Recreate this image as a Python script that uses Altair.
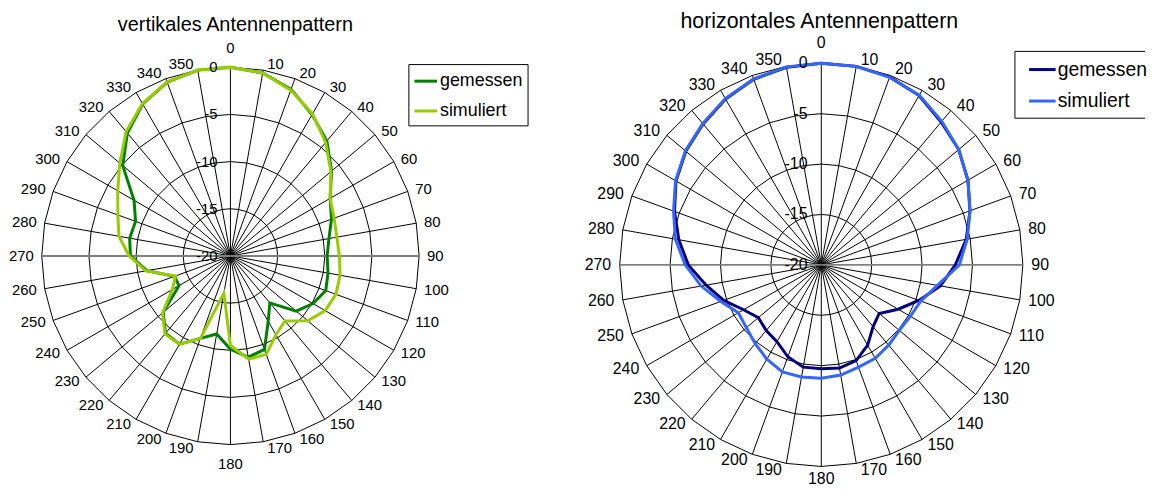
import altair as alt
import pandas as pd

# ---------------- data ----------------
angles = list(range(0, 360, 10))
angle_labels = [str(a) for a in angles]
ring_values = [-20, -15, -10, -5, 0]
series_names = ["gemessen", "simuliert"]
titles = ["vertikales Antennenpattern", "horizontales Antennenpattern"]

vert_gemessen = [0, -0.3, -1.2, -2.7, -4.1, -6.0, -7.8, -8.6, -9.4, -9.75,
                 -9.5, -9.25, -9.9, -10.9, -13.5, -12.0, -9.45, -9.1, -10.1, -11.6,
                 -10.7, -9.2, -9.3, -10.7, -13.7, -13.7, -11.0, -9.4, -9.15, -9.3,
                 -8.2, -5.1, -3.0, -1.4, -0.4, 0]
vert_simuliert = [0, -0.3, -1.3, -2.6, -4.3, -6.1, -7.8, -8.3, -8.55, -8.45,
                  -8.2, -8.1, -8.4, -9.3, -11.0, -10.35, -8.9, -8.9, -10.5, -16.0,
                  -10.7, -9.2, -9.2, -10.6, -12.9, -13.8, -10.9, -9.26, -8.0, -7.3,
                  -6.2, -4.7, -2.8, -1.35, -0.36, 0]
hor_gemessen = [0, 0, -0.15, -0.6, -1.5, -2.2, -3.2, -4.3, -5.4, -6.7,
                -8.0, -9.7, -11.2, -12.5, -12.0, -10.8, -9.9, -9.6, -9.7, -9.7,
                -10.3, -11.2, -11.5, -11.85, -11.1, -9.7, -8.4, -6.8, -5.65, -4.5,
                -3.35, -2.45, -1.75, -1.0, -0.4, -0.1]
hor_simuliert = [0, 0, -0.2, -0.55, -1.4, -2.2, -3.2, -4.3, -5.3, -6.3,
                 -8.3, -9.5, -9.8, -9.9, -9.6, -9.3, -9.2, -8.9, -8.75, -8.7,
                 -8.7, -9.2, -9.8, -10.3, -10.5, -9.4, -7.9, -6.5, -5.3, -4.4,
                 -3.3, -2.4, -1.7, -0.95, -0.37, -0.05]

vert_colors = ["#008000", "#99CC00"]
hor_colors = ["#000080", "#3366FF"]

R0 = ring_values[0]
SPAN = ring_values[-1] - ring_values[0]
FONT = "Liberation Sans"
RAD = "PI/180"


def panel(title, gem, sim, colors, W, H, cx, cy, k, s, title_x, title_y, title_fs,
          tick_fs, leg, bottom_off):
    xs = alt.Scale(domain=[-cx / k, (W - cx) / k], nice=False, zero=False)
    ys = alt.Scale(domain=[-(H - cy) / k, cy / k], nice=False, zero=False)

    def X(f):
        return alt.X(f"{f}:Q", scale=xs, axis=None)

    def Y(f):
        return alt.Y(f"{f}:Q", scale=ys, axis=None)

    # spokes
    spoke_base = alt.Chart(pd.DataFrame({"angle": angles})).transform_calculate(
        x0="0", y0="0",
        x1=f"{SPAN}*sin(datum.angle*{RAD})",
        y1=f"{SPAN}*cos(datum.angle*{RAD})",
    )
    spokes = spoke_base.transform_filter("datum.angle % 180 != 90").mark_rule(
        color="black", strokeWidth=1
    ).encode(x=X("x0"), y=Y("y0"), x2=alt.X2("x1"), y2=alt.Y2("y1"))
    spokes_h = spoke_base.transform_filter("datum.angle % 180 == 90").mark_rule(
        color="#808080", strokeWidth=2
    ).encode(x=X("x0"), y=Y("y0"), x2=alt.X2("x1"), y2=alt.Y2("y1"))

    # rings
    ring_df = pd.DataFrame([{"ring": rv, "angle": a}
                            for rv in ring_values[1:] for a in angles + [360]])
    rings = alt.Chart(ring_df).transform_calculate(
        px=f"(datum.ring-({R0}))*sin(datum.angle*{RAD})",
        py=f"(datum.ring-({R0}))*cos(datum.angle*{RAD})",
    ).mark_line(color="black", strokeWidth=1).encode(
        x=X("px"), y=Y("py"), detail="ring:N", order="angle:Q")

    def series(vals, color):
        df = pd.DataFrame({"angle": angles + [360], "value": vals + [vals[0]]})
        return alt.Chart(df).transform_calculate(
            px=f"(datum.value-({R0}))*sin(datum.angle*{RAD})",
            py=f"(datum.value-({R0}))*cos(datum.angle*{RAD})",
        ).mark_line(color=color, strokeWidth=3).encode(
            x=X("px"), y=Y("py"), order="angle:Q")

    line_g = series(gem, colors[0])
    line_s = series(sim, colors[1])

    # radial value labels
    rl = alt.Chart(pd.DataFrame({"ring": ring_values,
                                 "label": [str(v) for v in ring_values]})).transform_calculate(
        px=f"{-13 * s / k}", py=f"datum.ring-({R0})"
    ).mark_text(align="right", baseline="middle", font=FONT, fontSize=tick_fs,
                color="black").encode(x=X("px"), y=Y("py"), text="label:N")

    # angle labels
    al_base = alt.Chart(pd.DataFrame({"angle": angles, "label": angle_labels})).transform_calculate(
        sn=f"sin(datum.angle*{RAD})", cs=f"cos(datum.angle*{RAD})")
    tstyle = dict(baseline="middle", font=FONT, fontSize=tick_fs, color="black")
    al_r = al_base.transform_filter("datum.angle > 0 && datum.angle < 180").transform_calculate(
        px=f"{SPAN}*datum.sn + (4+4*datum.sn*datum.sn)*{s / k}",
        py=f"{SPAN}*datum.cs + 6*datum.cs*{s / k}",
    ).mark_text(align="left", **tstyle).encode(x=X("px"), y=Y("py"), text="label:N")
    al_l = al_base.transform_filter("datum.angle > 180").transform_calculate(
        px=f"{SPAN}*datum.sn - (4+4*datum.sn*datum.sn)*{s / k}",
        py=f"{SPAN}*datum.cs + 6*datum.cs*{s / k}",
    ).mark_text(align="right", **tstyle).encode(x=X("px"), y=Y("py"), text="label:N")
    al_t = al_base.transform_filter("datum.angle == 0").transform_calculate(
        px="0", py=f"{SPAN} + {19 * s / k}",
    ).mark_text(align="center", **tstyle).encode(x=X("px"), y=Y("py"), text="label:N")
    al_b = al_base.transform_filter("datum.angle == 180").transform_calculate(
        px="0", py=f"-{SPAN} - {bottom_off / k}",
    ).mark_text(align="center", clip=True, **tstyle).encode(x=X("px"), y=Y("py"), text="label:N")

    # title
    ttl = alt.Chart(pd.DataFrame({"t": [title]})).mark_text(
        align="center", baseline="alphabetic", font=FONT, fontSize=title_fs, color="black"
    ).encode(x=alt.value(title_x), y=alt.value(title_y), text="t:N")

    # legend
    bx0, bx1, by0, by1, lx0, lx1, tx, rows, lfs = leg
    box = alt.Chart(pd.DataFrame({"a": [0]})).mark_rect(
        fill="white", stroke="black", strokeWidth=1, clip=True
    ).encode(x=alt.value(bx0), x2=alt.value(bx1), y=alt.value(by0), y2=alt.value(by1))
    leg_layers = [box]
    for i, name in enumerate(series_names):
        leg_layers.append(alt.Chart(pd.DataFrame({"n": [name]})).mark_rule(
            color=colors[i], strokeWidth=3
        ).encode(x=alt.value(lx0), x2=alt.value(lx1), y=alt.value(rows[i])))
        leg_layers.append(alt.Chart(pd.DataFrame({"n": [name]})).mark_text(
            align="left", baseline="middle", font=FONT, fontSize=lfs, color="black"
        ).encode(x=alt.value(tx), y=alt.value(rows[i]), text="n:N"))

    return alt.layer(rings, spokes, spokes_h, line_g, line_s, rl,
                     al_r, al_l, al_t, al_b, ttl, *leg_layers).properties(width=W, height=H)


H = 479
left = panel(titles[0], vert_gemessen, vert_simuliert, vert_colors,
             W=580, H=H, cx=224, cy=248, k=9.5, s=1.0,
             title_x=229, title_y=21, title_fs=20, tick_fs=15,
             leg=(403.7, 523.7, 55.3, 117, 409.3, 432, 435, [72, 102], 18),
             bottom_off=20)
right = panel(titles[1], hor_gemessen, hor_simuliert, hor_colors,
              W=558, H=H, cx=232, cy=257, k=10.15, s=1.07,
              title_x=230, title_y=18, title_fs=21.5, tick_fs=16,
              leg=(427, 580, 42, 109.3, 441.3, 468, 470, [60.3, 92], 19.5),
              bottom_off=13)

chart = alt.hconcat(left, right, spacing=0, padding=0).resolve_scale(
    x="independent", y="independent").configure_view(stroke=None)

chart.save("out.html", embed_options={"renderer": "svg", "actions": False})
